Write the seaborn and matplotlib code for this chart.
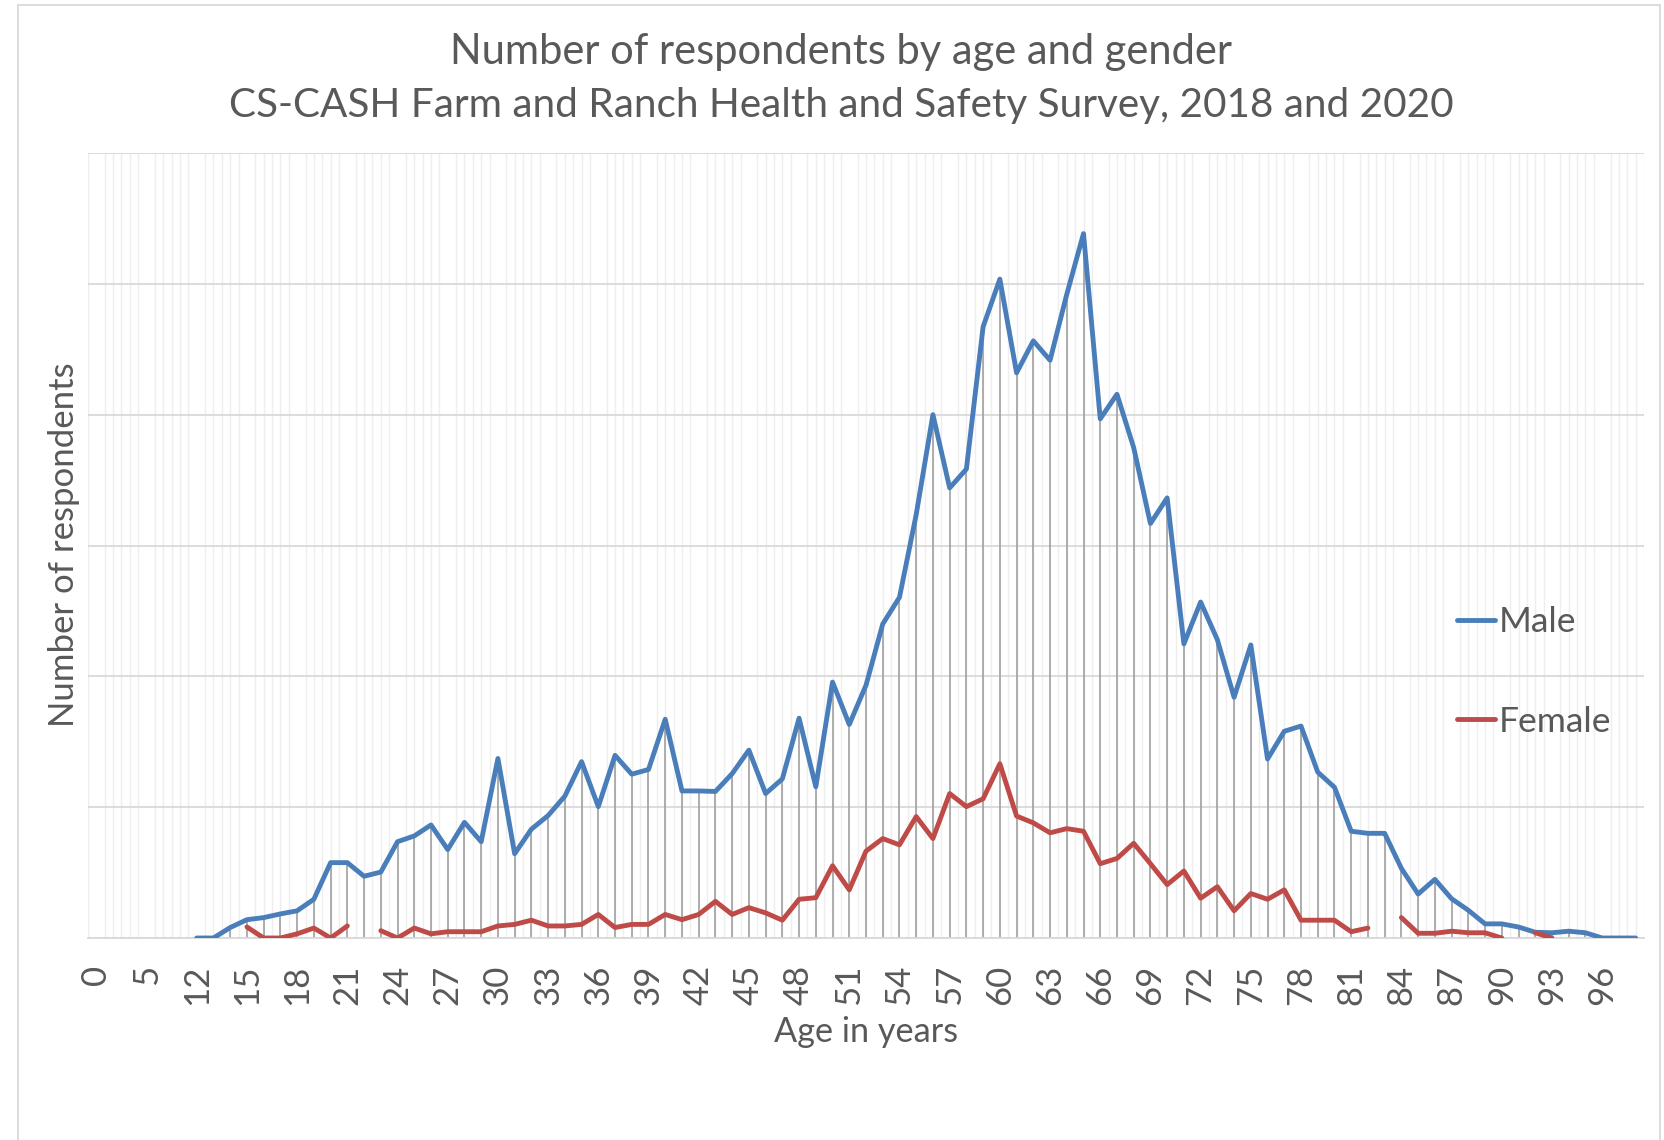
import matplotlib
matplotlib.use('Agg')

import numpy as np
import pandas as pd
import matplotlib.pyplot as plt
import seaborn as sns
from matplotlib.patches import Rectangle

# Category labels on the x axis (only every 3rd one is printed)
low_cats = ["0", "2", "4", "5", "9", "11"]
ages = list(range(12, 99))
categories = low_cats + [str(a) for a in ages]

# Respondent counts for ages 12..98
male = [0, 0, 2.0, 3.5, 3.9, 4.6, 5.2, 7.4, 14.4, 14.4,
        11.8, 12.6, 18.4, 19.5, 21.6, 16.9, 22.1, 18.4, 34.3, 16.1,
        20.8, 23.4, 27.1, 33.7, 25.1, 34.9, 31.3, 32.2, 41.8, 28.1,
        28.1, 28.0, 31.4, 35.9, 27.6, 30.4, 42.0, 28.9, 48.9, 40.8,
        48.3, 60.0, 65.1, 80.9, 100.0, 86.0, 89.6, 116.8, 125.9, 108.0,
        114.1, 110.4, 123.0, 134.6, 99.2, 103.9, 93.7, 79.2, 84.1, 56.2,
        64.2, 57.0, 46.0, 56.0, 34.2, 39.5, 40.5, 31.7, 28.8, 20.4,
        20.0, 20.0, 13.3, 8.4, 11.2, 7.5, 5.3, 2.7, 2.7, 2.1,
        1.1, 1.0, 1.3, 1.0, 0, 0, 0]
nan = np.nan
female = [nan, nan, nan, 2.1, 0, 0, 0.8, 1.9, 0, 2.3,
          nan, 1.4, 0, 1.9, 0.8, 1.2, 1.2, 1.2, 2.3, 2.6,
          3.4, 2.3, 2.3, 2.6, 4.5, 2.0, 2.6, 2.6, 4.5, 3.5,
          4.5, 7.0, 4.5, 5.8, 4.8, 3.4, 7.4, 7.7, 13.8, 9.2,
          16.6, 19.0, 17.8, 23.2, 19.0, 27.6, 25.1, 26.6, 33.3, 23.3,
          22.0, 20.1, 20.9, 20.4, 14.2, 15.2, 18.1, 14.2, 10.2, 12.8,
          7.6, 9.8, 5.2, 8.5, 7.4, 9.2, 3.4, 3.4, 3.4, 1.2,
          1.9, nan, 3.9, 0.9, 0.9, 1.3, 1.0, 1.0, 0, nan,
          1.0, 0, nan, nan, nan, nan, nan]

# long table; segments so missing ages break the line
rows = []
for name, vals in [("Male", male), ("Female", female)]:
    seg = 0
    for i, v in enumerate(vals):
        if np.isnan(v):
            seg += 1
            continue
        rows.append({"idx": i + len(low_cats), "count": v, "gender": name,
                     "seg": f"{name}{seg}"})
df = pd.DataFrame(rows)

sns.set_style("white")
plt.rcParams['font.family'] = ['Lato', 'DejaVu Sans']
txt = '#595959'

W, H = 1665, 1140
fig = plt.figure(figsize=(W / 100, H / 100), dpi=100)
ax = fig.add_axes([88 / W, 202 / H, (1644 - 88) / W, (938 - 153) / H])

# drop lines from each category's highest point to the axis
top = pd.DataFrame({"m": male, "f": female}).max(axis=1).to_numpy()
idx = np.arange(len(low_cats), len(categories))
ok = ~np.isnan(top)
ax.vlines(idx[ok], 0, top[ok], colors='#A0A0A0', lw=1.2, zorder=1.5)

sns.lineplot(data=df, x="idx", y="count", hue="gender", units="seg",
             estimator=None, sort=False, palette={"Male": "#4A7EBB", "Female": "#BE4B48"},
             linewidth=3.5, solid_capstyle='round', solid_joinstyle='round',
             ax=ax, legend=True, zorder=3)

ax.set_xlim(-0.5, len(categories) - 0.5)
ax.set_ylim(0, 150)
ax.set_yticks(np.arange(0, 151, 25))
ax.set_yticklabels([])
ax.yaxis.grid(True, color='#D9D9D9', lw=1.3)
ax.set_xticks(np.arange(0, len(categories), 3))
ax.set_xticklabels(categories[::3], rotation=90, fontsize=25, color=txt, va='top')
ax.set_xticks(np.arange(-0.5, len(categories), 0.5), minor=True)
ax.xaxis.grid(True, which='minor', color='#EEEEEE', lw=1.0)
ax.xaxis.grid(False, which='major')
ax.tick_params(axis='both', which='both', length=0)
ax.tick_params(axis='x', pad=19)
ax.set_axisbelow(True)
for s in ['left', 'top', 'right']:
    ax.spines[s].set_visible(False)
ax.spines['bottom'].set_color('#D9D9D9')
ax.spines['bottom'].set_linewidth(1.3)
ax.set_xlabel("")
ax.set_ylabel("")

handles, labels = ax.get_legend_handles_labels()
for h in handles:
    h.set_linewidth(3.5)
ax.legend(handles, labels, loc='center left', bbox_to_anchor=(1457 / W, 1 - 672 / H),
          bbox_transform=fig.transFigure, frameon=False, fontsize=25.5,
          labelcolor=txt, handlelength=1.07, handletextpad=0.12,
          labelspacing=1.9, borderpad=0, borderaxespad=0)

fig.text(841 / W, 1 - 52 / H, "Number of respondents by age and gender",
         ha='center', va='center', fontsize=30, color=txt)
fig.text(841 / W, 1 - 106 / H, "CS-CASH Farm and Ranch Health and Safety Survey, 2018 and 2020",
         ha='center', va='center', fontsize=29.2, color=txt)
fig.text(866 / W, 1 - 1032 / H, "Age in years", ha='center', va='center',
         fontsize=24.7, color=txt)
fig.text(64 / W, 1 - 545 / H, "Number of respondents", ha='center', va='center',
         rotation=90, fontsize=25, color=txt)

fig.add_artist(Rectangle((18 / W, -0.05), (1660 - 18) / W, 1.05 - 5 / H,
                         transform=fig.transFigure, fill=False,
                         edgecolor='#D9D9D9', lw=1.3))

fig.savefig('out.png', dpi=100)
